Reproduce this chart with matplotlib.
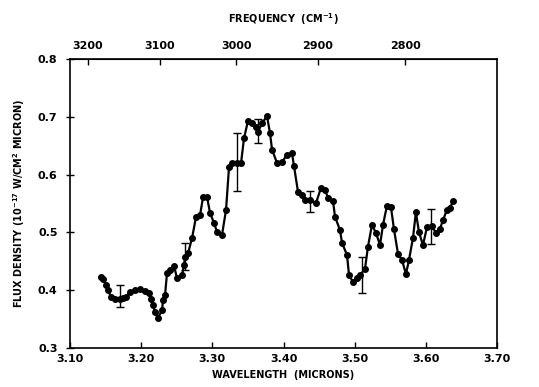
import matplotlib
matplotlib.use("Agg")
import matplotlib.pyplot as plt
import numpy as np

wavelength = [3.1436, 3.1464, 3.1506, 3.1534, 3.1576, 3.1632, 3.1703, 3.1745, 3.1787, 3.1843,
              3.1913, 3.1984, 3.2054, 3.2110, 3.2138, 3.2166, 3.2194, 3.2236, 3.2293, 3.2307,
              3.2335, 3.2363, 3.2405, 3.2461, 3.2503, 3.2574, 3.2602, 3.2616, 3.2658, 3.2714,
              3.2771, 3.2827, 3.2869, 3.2925, 3.2967, 3.3023, 3.3065, 3.3136, 3.3192, 3.3234,
              3.3276, 3.3347, 3.3403, 3.3445, 3.3501, 3.3557, 3.3614, 3.3642, 3.3698, 3.3768,
              3.3810, 3.3839, 3.3909, 3.3979, 3.4049, 3.4119, 3.4147, 3.4204, 3.4260, 3.4302,
              3.4372, 3.4457, 3.4527, 3.4583, 3.4625, 3.4696, 3.4724, 3.4794, 3.4822, 3.4892,
              3.4921, 3.4977, 3.5033, 3.5075, 3.5145, 3.5187, 3.5243, 3.5300, 3.5356, 3.5398,
              3.5454, 3.5510, 3.5552, 3.5609, 3.5665, 3.5721, 3.5763, 3.5819, 3.5861, 3.5903,
              3.5960, 3.6016, 3.6086, 3.6143, 3.6199, 3.6241, 3.6297, 3.6339, 3.6382]
flux = [0.423, 0.419, 0.409, 0.400, 0.388, 0.385, 0.385, 0.387, 0.388, 0.397,
        0.400, 0.402, 0.399, 0.395, 0.385, 0.374, 0.362, 0.352, 0.366, 0.383,
        0.392, 0.430, 0.435, 0.442, 0.421, 0.426, 0.444, 0.457, 0.464, 0.490,
        0.527, 0.530, 0.561, 0.561, 0.534, 0.516, 0.501, 0.496, 0.539, 0.613,
        0.620, 0.620, 0.620, 0.663, 0.693, 0.689, 0.682, 0.674, 0.689, 0.701,
        0.672, 0.643, 0.620, 0.622, 0.634, 0.637, 0.615, 0.570, 0.565, 0.556,
        0.556, 0.551, 0.577, 0.573, 0.560, 0.554, 0.527, 0.504, 0.482, 0.461,
        0.426, 0.414, 0.421, 0.426, 0.437, 0.475, 0.513, 0.499, 0.478, 0.513,
        0.546, 0.544, 0.506, 0.463, 0.452, 0.428, 0.452, 0.490, 0.535, 0.501,
        0.478, 0.509, 0.511, 0.499, 0.506, 0.521, 0.539, 0.542, 0.554]

err_x = [3.1703, 3.2616, 3.3347, 3.3642, 3.4372, 3.5103, 3.6072]
err_lo = [0.371, 0.435, 0.572, 0.655, 0.535, 0.395, 0.480]
err_hi = [0.409, 0.482, 0.672, 0.696, 0.572, 0.457, 0.541]

x_ticks = [3.10, 3.20, 3.30, 3.40, 3.50, 3.60, 3.70]
y_ticks = [0.3, 0.4, 0.5, 0.6, 0.7, 0.8]
freq_ticks = [3200, 3100, 3000, 2900, 2800]

plt.rcParams['font.family'] = ['DejaVu Sans']
plt.rcParams['font.weight'] = 'bold'

fig = plt.figure(figsize=(5.39, 3.87), dpi=100)
ax = fig.add_axes([0.130, 0.1008, 0.792, 0.7467])

ax.plot(wavelength, flux, color='black', lw=1.6, marker='o', ms=4.0,
        markerfacecolor='black', markeredgecolor='black')

ex = np.array(err_x)
lo = np.array(err_lo)
hi = np.array(err_hi)
mid = (lo + hi) / 2
ax.errorbar(ex, mid, yerr=(hi - lo) / 2, fmt='none', ecolor='black',
            elinewidth=1.0, capsize=3, capthick=1.0)

ax.set_xlim(3.10, 3.70)
ax.set_ylim(0.3, 0.8)
ax.set_xticks(x_ticks)
ax.set_xticklabels([f"{v:.2f}" for v in x_ticks], fontsize=8, fontweight='bold')
ax.set_yticks(y_ticks)
ax.set_yticklabels([f"{v:.1f}" for v in y_ticks], fontsize=8, fontweight='bold')
ax.tick_params(axis='x', direction='in', length=4, width=1, pad=4)
ax.tick_params(axis='y', direction='inout', length=6, width=1, pad=6)
for s in ax.spines.values():
    s.set_linewidth(1.2)

ax.set_xlabel("WAVELENGTH  (MICRONS)", fontsize=7, fontweight='bold', labelpad=5)
ax.set_ylabel("FLUX DENSITY (10$^{\\mathbf{-17}}$ W/CM$^{\\mathbf{2}}$ MICRON)",
              fontsize=7, fontweight='bold', labelpad=8)

sec = ax.secondary_xaxis('top', functions=(lambda w: 1e4 / w, lambda f: 1e4 / f))
sec.set_xticks(freq_ticks)
sec.set_xticklabels([str(v) for v in freq_ticks], fontsize=8, fontweight='bold')
sec.tick_params(direction='in', length=4, width=1, pad=6)
sec.set_xlabel("FREQUENCY  (CM$^{\\mathbf{-1}}$)", fontsize=7, fontweight='bold', labelpad=13)

fig.savefig("out.png", dpi=100)
